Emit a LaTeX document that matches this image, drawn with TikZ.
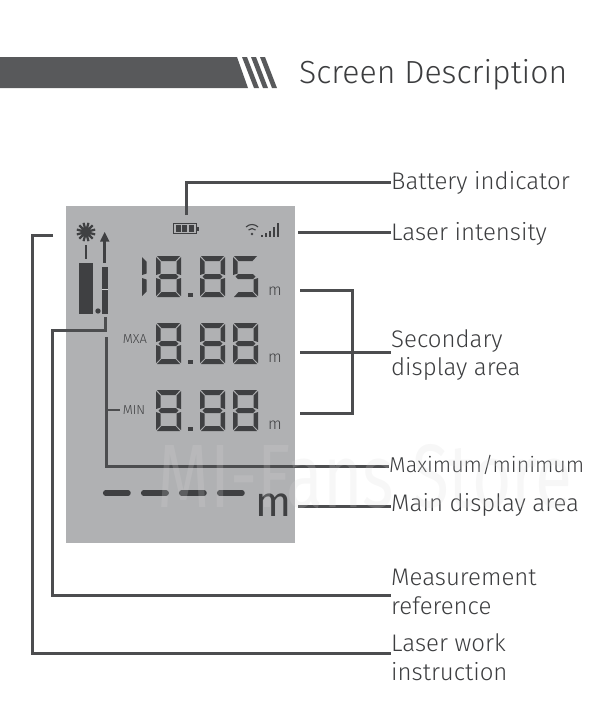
\documentclass[tikz,border=0pt]{standalone}
\usepackage{fontspec}
\setmainfont{Fira Sans}[UprightFont=* Light,BoldFont=*]
\usepackage{tikz}

\definecolor{lcdgray}{HTML}{B0B1B3}
\definecolor{inkgray}{HTML}{3F4042}
\definecolor{linegray}{HTML}{4C4D4F}
\definecolor{bargray}{HTML}{58595B}
\definecolor{textgray}{HTML}{3C3D3F}
\definecolor{markgray}{HTML}{D8D8D8}

\begin{document}
\begin{tikzpicture}[x=1pt,y=-1pt,line join=miter]

        % Styles
        \tikzset{
          lead/.style={draw=linegray,line width=3pt},
          seg/.style={fill=inkgray,draw=none},
          tag/.style={anchor=west,inner sep=0pt,text=textgray,font=\fontsize{24}{28.5}\selectfont,align=left},
          lcdtag/.style={inner sep=0pt,text=inkgray,font=\fontsize{13}{14}\selectfont},
          unit/.style={inner sep=0pt,text=inkgray,font=\fontsize{16}{16}\selectfont}
        }

        \useasboundingbox (0,0) rectangle (606,720);

        % y-coordinates for the digit rows
        \def\yrowA{256}
        \def\yrowB{323}
        \def\yrowC{390}

        % segments of one digit (25 wide, 41 high)
        \def\sA{(1,0) -- (24,0) -- (19.5,5) -- (5.5,5)}
        \def\sB{(25,1) -- (25,19) -- (20.5,17.5) -- (20.5,5.5)}
        \def\sC{(25,22) -- (25,40) -- (20.5,35.5) -- (20.5,23.5)}
        \def\sD{(1,41) -- (24,41) -- (19.5,36) -- (5.5,36)}
        \def\sE{(0,22) -- (0,40) -- (4.5,35.5) -- (4.5,23.5)}
        \def\sF{(0,1) -- (0,19) -- (4.5,17.5) -- (4.5,5.5)}
        \def\sG{(2.5,20.5) -- (5,18) -- (20,18) -- (22.5,20.5) -- (20,23) -- (5,23)}

        %-------------------------------
        % Header bar and title
        %-------------------------------
        \fill[bargray] (0,57) -- (237,57) -- (248,88) -- (0,88) -- cycle;
        \foreach \x in {242,251,260}
            \fill[bargray] (\x,57) -- (\x+5,57) -- (\x+17,88) -- (\x+12,88) -- cycle;
        \node[anchor=west,inner sep=0pt,text=textgray,font=\fontsize{32}{36}\selectfont] (title) at (299,74.5) {Screen Description};

        %-------------------------------
        % LCD panel
        %-------------------------------
        \node[fill=lcdgray,inner sep=0pt,minimum width=229pt,minimum height=337pt] (panel) at (180.5,374.5) {};

        % battery
        \node[draw=inkgray,line width=1pt,minimum width=23pt,minimum height=10.5pt,inner sep=0pt] (battery) at (184.5,228.5) {};
        \foreach \x in {175.5,182,188.5}
            \fill[inkgray] (\x,225) rectangle (\x+5,232);
        \fill[inkgray] (196.5,226.5) rectangle (198.5,230.5);

        % signal icon
        \draw[inkgray,line width=1.1pt] (246,227) arc[start angle=-135,end angle=-45,radius=8.5];
        \draw[inkgray,line width=1.1pt] (248.5,230) arc[start angle=-135,end angle=-45,radius=5];
        \fill[inkgray] (252,234) circle (1.3pt);
        \foreach \x/\h in {260.5/1.5,264.5/3.5,268.5/6,272.5/10,276.5/13.5}
            \fill[inkgray] (\x,236.7) rectangle (\x+2,236.7-\h);

        % laser star and bars
        \foreach \a in {15,45,...,165}
            \draw[inkgray,line width=2.2pt] (86,232)+(\a:9.5) -- +(\a+180:9.5);
        \fill[inkgray] (86,232) circle (5.5pt);
        \draw[inkgray,line width=2pt] (85.8,245) -- (85.8,259);
        \fill[inkgray] (79,263) rectangle (93,314);
        \fill[inkgray] (98,311) circle (2.7pt);
        \fill[inkgray] (104.7,232) -- (109.5,241.5) -- (100,241.5) -- cycle;
        \draw[inkgray,line width=3pt] (104.7,241) -- (104.7,263);
        \fill[inkgray] (102,267) rectangle (108,314);
        \fill[lcdgray!60!white] (102,288.6) rectangle (108,289.6);

        % digits, first row
        \foreach \s in {\sE,\sF}
            \fill[seg,shift={(142,\yrowA)}] \s -- cycle;
        \foreach \x in {156,200}
            \foreach \s in {\sA,\sB,\sC,\sD,\sE,\sF,\sG}
                \fill[seg,shift={(\x,\yrowA)}] \s -- cycle;
        \foreach \s in {\sA,\sC,\sD,\sF,\sG}
            \fill[seg,shift={(233,\yrowA)}] \s -- cycle;

        % digits, second and third row
        \foreach \y in {\yrowB,\yrowC}
            \foreach \x in {156,200,233}
                \foreach \s in {\sA,\sB,\sC,\sD,\sE,\sF,\sG}
                    \fill[seg,shift={(\x,\y)}] \s -- cycle;

        % decimal points
        \foreach \y in {\yrowA,\yrowB,\yrowC}
            \fill[inkgray] (188,\y+37) rectangle (193,\y+41);

        % units and side texts
        \node[unit] (unitA) at (275,291) {m};
        \node[unit] (unitB) at (275,358) {m};
        \node[unit] (unitC) at (275,425) {m};
        \node[lcdtag] (mxa) at (135,339) {MXA};
        \node[lcdtag] (min) at (134,410) {MIN};
        \node[inner sep=0pt,text=inkgray,font=\fontsize{42}{42}\bfseries] (unitM) at (273,505) {m};

        % dashes
        \foreach \x in {103,141,179,217}
            \draw[inkgray,line width=5.5pt,line cap=round] (\x+2.7,493) -- (\x+25,493);

        %-------------------------------
        % Labels
        %-------------------------------
        \node[tag] (lblBattery) at (391,183) {Battery indicator};
        \node[tag] (lblLaser) at (391,233.5) {Laser intensity};
        \node[tag] (lblSecond) at (391,355) {Secondary\\display area};
        \node[tag] (lblMax) at (389,464.5) {\fontsize{21.5}{24}\selectfont Maximum/minimum};
        \node[tag] (lblMain) at (391,505) {Main display area};
        \node[tag] (lblRef) at (391,592) {Measurement\\reference};
        \node[tag] (lblWork) at (391,657) {Laser work\\instruction};

        %-------------------------------
        % Leader lines
        %-------------------------------
        \coordinate (battEnd) at (186,215);
        \coordinate (battJoin) at (391,182);
        \coordinate (intEnd) at (298,232);
        \coordinate (secA) at (300,290);
        \coordinate (secB) at (300,352);
        \coordinate (secC) at (300,413);
        \coordinate (secJoin) at (352,352);
        \coordinate (maxEnd) at (106,337);
        \coordinate (mainEnd) at (298,506);
        \coordinate (refEnd) at (105,317);
        \coordinate (workEnd) at (53,235);

        \draw[lead] (battEnd) |- (battJoin);
        \draw[lead] (intEnd) -- (lblLaser.west |- intEnd);
        \draw[lead] (secA) -| (secJoin);
        \draw[lead] (secC) -| (secJoin);
        \draw[lead] (secB) -- (lblSecond.west |- secB);
        \draw[lead] (maxEnd) |- (lblMax.west |- 0,466);
        \draw[lead,line width=2pt,shorten >=3pt] (106,410) -- (min.west);
        \draw[lead] (mainEnd) -- (lblMain.west |- mainEnd);
        \draw[lead] (refEnd) -- (105,330) -- (52,330) -- (52,595) -- (lblRef.west |- 0,595);
        \draw[lead] (workEnd) -- (32,235) -- (32,653) -- (lblWork.west |- 0,653);

        % faint store mark over everything
        \node[inner sep=0pt,text=markgray,text opacity=0.2,font=\fontsize{90}{90}\bfseries] (mark) at (365,476) {\scalebox{0.75}[1]{MI-Fans Store}};

    \end{tikzpicture}
\end{document}
